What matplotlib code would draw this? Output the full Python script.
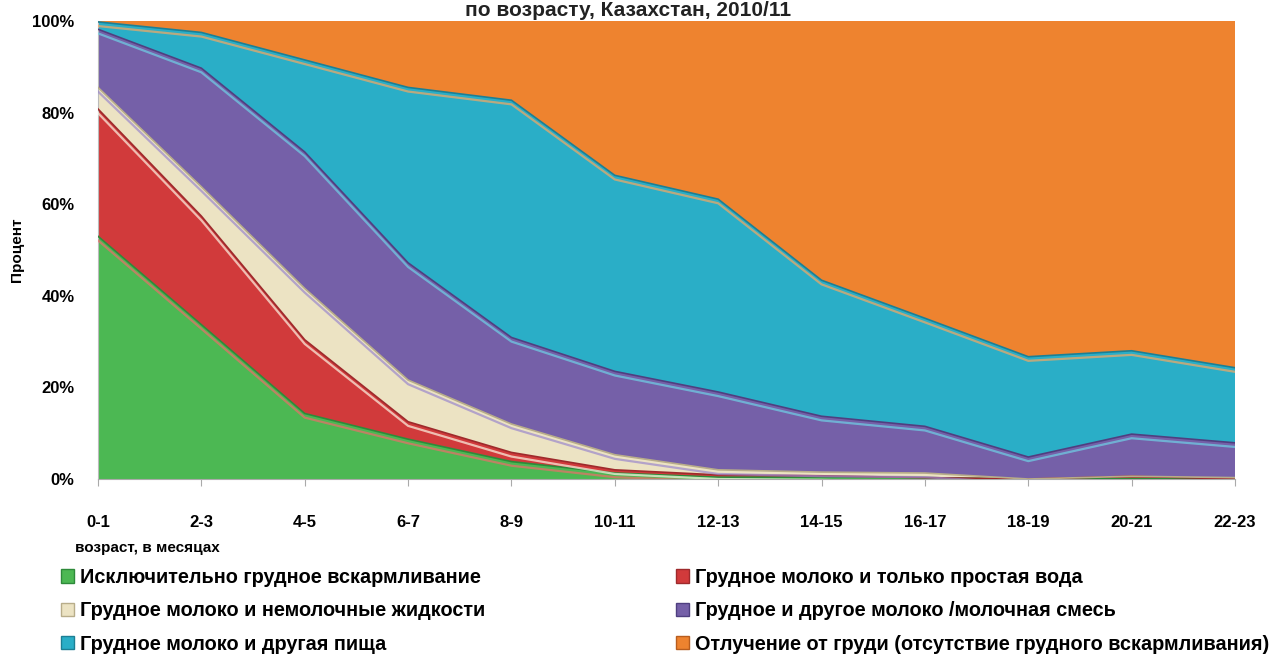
import numpy as np
import matplotlib.pyplot as plt
from matplotlib.patches import Patch

plt.rcParams['font.family'] = ['Liberation Sans', 'DejaVu Sans']
plt.rcParams['font.weight'] = 'bold'

ages = ['0-1', '2-3', '4-5', '6-7', '8-9', '10-11', '12-13', '14-15', '16-17', '18-19', '20-21', '22-23']

exclusive = [53.0, 33.7, 14.3, 8.7, 3.8, 1.3, 0.4, 0.4, 0.3, 0.0, 0.1, 0.0]
water = [27.8, 23.7, 16.1, 3.8, 2.0, 0.7, 0.5, 0.3, 0.0, 0.0, 0.5, 0.0]
non_milk = [4.7, 6.4, 11.2, 9.1, 6.2, 3.3, 1.1, 0.8, 1.0, 0.0, 0.0, 0.3]
other_milk = [12.7, 25.9, 29.8, 25.6, 18.9, 18.2, 17.0, 12.2, 10.2, 4.8, 9.2, 7.6]
food = [1.6, 7.8, 20.1, 38.3, 51.8, 42.8, 42.1, 29.7, 23.6, 21.9, 18.2, 16.4]
weaned = list(100 - np.sum([exclusive, water, non_milk, other_milk, food], axis=0))

labels = ['Исключительно грудное вскармливание',
          'Грудное молоко и только простая вода',
          'Грудное молоко и немолочные жидкости',
          'Грудное и другое молоко /молочная смесь',
          'Грудное молоко и другая пища',
          'Отлучение от груди (отсутствие грудного вскармливания)']

colors = ['#4cb853', '#d13a3b', '#ece3c3', '#7560a8', '#2aaec7', '#ee832f']
edges = ['#2e8a3a', '#9e2a2c', '#b8ad8a', '#4f3f80', '#1c7f94', '#b85d1e']
lights = ['#7fd083', '#ec6d6b', '#fbf6e4', '#9b88cc', '#6fd2e6', '#f7a861']

series = [exclusive, water, non_milk, other_milk, food, weaned]

fig = plt.figure(figsize=(12.73, 6.55), dpi=100)
ax = fig.add_axes([98/1273, 176/655, 1137/1273, 458/655])

x = np.arange(len(ages))
ax.stackplot(x, *series, colors=colors, linewidth=0)

# bevel-ish edges on top of each layer
tops = np.cumsum(series, axis=0)
for i in range(5):
	ax.plot(x, tops[i], color=edges[i], lw=1.2, zorder=3)
	ax.plot(x, tops[i] - 0.9, color=lights[i + 1], lw=1.6, alpha=0.7, zorder=3)

ax.set_xlim(0, len(ages) - 1)
ax.set_ylim(0, 100)
ax.set_yticks(np.arange(0, 101, 20))
ax.set_yticklabels(['{}%'.format(v) for v in range(0, 101, 20)], fontsize=12, fontweight='bold')
ax.set_xticks(x)
ax.set_xticklabels(ages, fontsize=12, fontweight='bold')
ax.tick_params(axis='x', length=5, color='#aaaaaa', pad=21)
ax.tick_params(axis='y', length=0, pad=17)

for s in ['top', 'right']:
	ax.spines[s].set_visible(False)
ax.spines['left'].set_color('#bbbbbb')
ax.spines['bottom'].set_color('#aaaaaa')

ax.set_ylabel('Процент', fontsize=11, fontweight='bold', labelpad=6)

fig.text(628/1273, 1 - 1/655, 'по возрасту, Казахстан, 2010/11', ha='center', va='top',
	fontsize=15, fontweight='bold', color='#222222')
fig.text(75/1273, 1 - 548/655, 'возраст, в месяцах', ha='left', va='center', fontsize=11, fontweight='bold')

order = [0, 2, 4, 1, 3, 5]
handles = [Patch(facecolor=colors[i], edgecolor=edges[i], label=labels[i]) for i in order]
fig.legend(handles=handles, ncol=2, loc='upper left', bbox_to_anchor=(61/1273, 1 - 568/655),
	frameon=False, fontsize=14.3, handlelength=0.65, handleheight=0.65, handletextpad=0.3,
	columnspacing=9.6, labelspacing=0.72, borderaxespad=0, borderpad=0)

plt.savefig('out.png', dpi=100)
